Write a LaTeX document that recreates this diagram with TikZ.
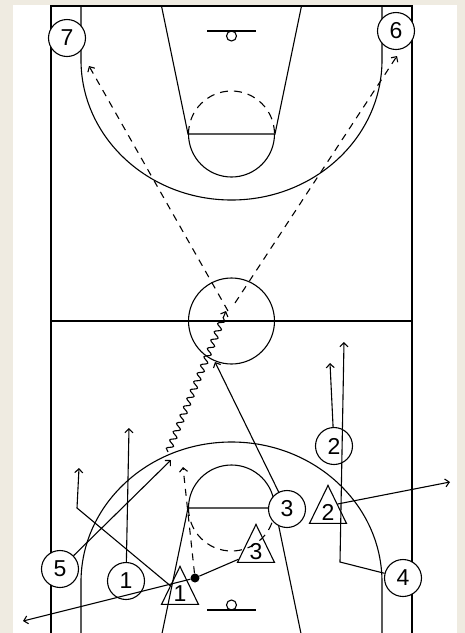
\documentclass[tikz,border=0pt]{standalone}
\usepackage{fontspec}
\setmainfont{Liberation Sans}
\usetikzlibrary{arrows.meta,shapes.geometric,decorations.pathmorphing}
\definecolor{pgbeige}{HTML}{EFEBE1}

\begin{document}
\begin{tikzpicture}[
  x=1pt, y=-1pt,
  courtline/.style={black, line width=1.1pt},
  courtdash/.style={courtline, dash pattern=on 8pt off 6pt},
  offnode/.style={circle, draw, line width=1.1pt, fill=white,
                  minimum size=37pt, inner sep=0pt,
                  font=\fontsize{23}{23}\selectfont},
  defnode/.style={isosceles triangle, isosceles triangle stretches,
                  shape border rotate=90, draw, line width=1.1pt,
                  minimum width=37pt, minimum height=38pt, inner sep=0pt,
                  font=\fontsize{23}{23}\selectfont},
  ballnode/.style={circle, fill=black, minimum size=9pt, inner sep=0pt},
  cutline/.style={courtline, -{Straight Barb[length=4pt,width=8pt]}},
  passline/.style={cutline, dash pattern=on 7pt off 6pt},
  dribbleline/.style={cutline, decorate,
                      decoration={snake, amplitude=3pt, segment length=9pt,
                                  post length=6pt}},
]

  %% ── Fondo ──
  \fill[pgbeige] (0,0) rectangle (465,633);
  \fill[white] (13,5) rectangle (457,633);
  \useasboundingbox (0,0) rectangle (465,633);
  \clip (0,0) rectangle (465,633);

  %% ── Pista: lineas generales ──
  \draw[courtline] (51,640) -- (51,6) -- (412,6) -- (412,640);
  \draw[courtline] (51,321) -- (412,321);
  \draw[courtline] (231.5,321) circle[radius=43];

  %% ── Media pista superior ──
  \draw[courtline] (81,6) -- (81,60)
    arc[start angle=180, end angle=0, x radius=150.5, y radius=140] -- (382,6);
  \draw[courtline] (161.5,6) -- (188,134) -- (275,134) -- (301.5,6);
  \draw[courtline] (188.5,134) arc[start angle=180, end angle=0, radius=43];
  \draw[courtdash] (188.5,134) arc[start angle=180, end angle=360, radius=43];
  \draw[courtline] (207,31) -- (256,31);
  \draw[courtline] (231.5,36) circle[radius=5];

  %% ── Media pista inferior ──
  \draw[courtline] (81,640) -- (81,582)
    arc[start angle=180, end angle=360, x radius=150.5, y radius=140] -- (382,640);
  \draw[courtline] (161.5,636) -- (188,508) -- (275,508) -- (301.5,636);
  \draw[courtline] (188.5,508) arc[start angle=180, end angle=360, radius=43];
  \draw[courtdash] (188.5,508) arc[start angle=180, end angle=0, radius=43];
  \draw[courtline] (207,610) -- (256,610);
  \draw[courtline] (231.5,605) circle[radius=5];

  %% ── Atacantes ──
  \node[offnode] (o7) at (67,38)  {7};
  \node[offnode] (o6) at (396,31) {6};
  \node[offnode] (o5) at (60,569) {5};
  \node[offnode] (o1) at (126,581) {1};
  \node[offnode] (o3) at (287,509) {3};
  \node[offnode] (o2) at (334,446) {2};
  \node[offnode] (o4) at (403,578) {4};

  %% ── Defensores ──
  \node[defnode, anchor=apex] (d1) at (180,565) {1};
  \node[defnode, anchor=apex] (d3) at (256,523) {3};
  \node[defnode, anchor=apex] (d2) at (328,484) {2};
  \node[ballnode] (ball) at (195,578) {};

  %% ── Puntos libres ──
  \coordinate (dst) at (168,452);
  \coordinate (drib) at (226,311);
  \coordinate (p7) at (89,66);
  \coordinate (p6) at (397,56);
  \coordinate (p3) at (215,362);
  \coordinate (p5) at (171,460);
  \coordinate (p1) at (129,428);
  \coordinate (p2) at (330,363);
  \coordinate (c4) at (340,562);
  \coordinate (p4) at (344,342);
  \coordinate (c1) at (77,508);
  \coordinate (q1) at (79,468);
  \coordinate (pb) at (183,467);
  \coordinate (pl) at (23,621);
  \coordinate (pr) at (450,482);

  %% ── Bote y pases ──
  \draw[dribbleline] (dst) -- (drib);
  \draw[passline] ([xshift=2pt]drib) -- (p7);
  \draw[passline] ([xshift=9pt,yshift=8pt]drib) -- (p6);
  \draw[passline] (ball) -- (pb);

  %% ── Cortes ──
  \draw[cutline] (o3) -- (p3);
  \draw[cutline] (o5) -- (p5);
  \draw[cutline] (o1) -- (p1);
  \draw[cutline] (o2) -- (p2);
  \draw[cutline] (o4) -- (c4) -- (p4);
  \draw[cutline] (d1) -- (c1) -- (q1);
  \draw[courtline] (ball) -- (d3);
  \draw[cutline] (ball) -- (pl);
  \draw[cutline] (d2.right side) -- (pr);

\end{tikzpicture}
\end{document}
